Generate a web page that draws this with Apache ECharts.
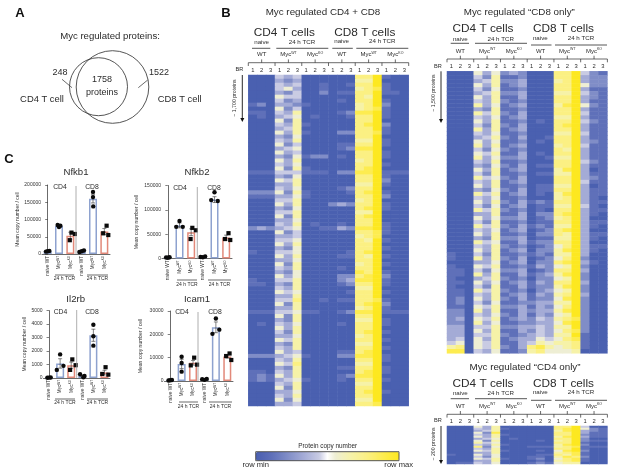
<!DOCTYPE html>
<html><head><meta charset="utf-8">
<style>html,body{margin:0;padding:0;background:#fff}#c{width:617px;height:476px}</style>
<script src="https://cdn.jsdelivr.net/npm/echarts@6/dist/echarts.min.js"></script>
</head><body><div id="c"></div>
<script>
// ---------- DATA ----------
const genes = ['Nfkb1','Nfkb2','Il2rb','Icam1'];
const barCats = ['naive WT','MycWT','MycKO','naive WT','MycWT','MycKO'];
const nfkb1Means = [8000,81000,53000,8000,160000,65000];
const nfkb2Means = [2000,68000,54000,3000,121000,43000];
const il2rbMeans = [30,1080,950,150,3170,400];
const icam1Means = [300,7300,7800,700,23000,10500];
const nfkb1Err = [2000,3000,10000,2000,12000,9000];
const nfkb2Err = [500,5000,7000,500,6000,5000];
const il2rbErr = [10,350,230,60,450,170];
const icam1Err = [100,2000,1000,100,2300,700];
const nfkb1Pts = [[7000,9000,8000],[78000,82000,84000],[62000,58000,40000],[6000,10000,8000],[180000,165000,138000],[82000,60000,55000]];
const nfkb2Pts = [[2000,2500,1500],[77000,65000,65000],[63000,58000,40000],[3000,4000,2500],[136000,118000,120000],[52000,40000,38000]];
const il2rbPts = [[20,40,30],[1750,900,600],[1380,950,600],[280,150,60],[3950,3100,2400],[800,300,250]];
const icam1Pts = [[200,400,300],[10400,7700,4000],[10000,7000,6700],[800,900,500],[26800,22000,20200],[11800,10700,9000]];
const yMax = [200000,150000,5000,30000];
const yStep = [50000,50000,1000,10000];
const heatCols = ['1','2','3','1','2','3','1','2','3','1','2','3','1','2','3','1','2','3'];
const heat1Rows = [
'000 434 000 000 779 100','000 323 000 000 669 000','000 434 001 001 779 100','000 453 001 000 678 100',
'000 324 002 011 779 110','000 544 000 000 769 000','000 423 000 010 779 100','120 332 100 000 679 200',
'000 524 000 000 678 100','110 436 000 012 889 100','010 345 010 001 779 100','000 526 000 000 779 000',
'000 436 100 000 789 200','000 346 000 000 779 100','000 536 100 022 778 100','000 325 000 000 779 000',
'000 436 000 000 669 100','000 524 000 011 779 100','000 345 000 012 889 000','000 534 000 000 779 100',
'000 325 122 010 779 100','000 536 000 000 679 000','000 435 000 000 779 100','000 526 100 000 789 000',
'111 444 111 022 889 111','000 325 000 000 779 100','000 546 000 000 779 200','000 336 000 000 669 100',
'000 435 000 012 779 000','222 526 100 001 789 100','111 335 100 000 779 200','000 446 000 000 679 000',
'000 536 000 232 779 100','000 325 000 000 789 100','000 446 000 000 669 000','000 526 000 000 789 000',
'000 335 000 000 779 000','000 436 010 010 779 100','232 345 001 132 889 100','000 524 000 000 778 100',
'000 334 000 000 678 000','000 445 000 000 769 100','000 536 000 000 779 000','000 325 000 000 779 100',
'100 445 000 001 789 000','000 536 000 011 769 100','000 335 000 000 779 000','000 526 000 000 679 100',
'000 436 000 010 779 000','000 325 000 000 879 100','000 535 000 022 789 200','100 446 000 023 889 100',
'110 326 000 012 779 100','000 436 000 000 669 000','000 545 000 001 779 100','000 336 000 000 779 000',
'000 447 001 011 778 100','000 526 000 000 789 200','000 336 000 000 679 100','111 445 110 012 889 111',
'000 526 000 000 779 000','000 326 000 000 669 100','010 435 000 010 779 100','000 536 000 000 779 000',
'000 426 000 000 789 100','000 335 000 000 679 000','000 546 000 000 779 100','000 326 000 000 669 000',
'000 436 000 000 779 100','000 534 000 011 789 000','222 345 100 022 889 100','000 436 000 000 779 100',
'000 547 000 000 669 000','000 326 000 011 779 100','110 436 000 000 789 100','121 536 000 012 889 000',
'121 345 100 010 779 100','000 436 000 000 669 000','000 526 000 000 779 000','000 335 000 000 789 100',
'000 436 000 000 779 000','000 525 000 000 669 000','000 334 000 000 778 000'
];
const heat2Rows = [
'000 535 232 000 779 421','000 426 112 000 779 322','000 346 223 000 679 322','000 536 123 000 779 522',
'000 425 112 000 779 311','000 346 223 000 669 421','000 536 113 000 779 321','000 436 212 000 779 311',
'000 635 123 000 689 521','000 326 112 000 779 311','000 646 213 000 779 411','000 435 123 000 669 311',
'000 536 112 010 779 421','000 426 213 000 789 311','000 636 123 000 779 311','000 435 112 000 669 411',
'000 346 213 001 779 311','000 535 112 010 779 321','000 636 123 000 679 411','000 425 212 000 769 311',
'000 546 113 010 779 311','000 635 223 001 669 311','000 436 112 000 779 421','000 325 213 011 779 311',
'000 536 123 000 689 301','000 426 112 011 669 311','000 645 213 000 779 321','000 436 123 000 779 411',
'000 536 112 011 669 301','000 325 213 011 779 311','000 646 123 010 689 311','000 435 112 000 679 310',
'000 536 213 121 779 311','000 425 123 011 669 410','000 646 212 010 779 311','000 336 113 022 789 310',
'000 535 223 012 679 300','000 426 112 011 779 311','000 646 213 121 669 310','000 435 123 012 789 300',
'000 536 112 022 769 311','000 326 223 011 669 310','000 645 113 122 779 300','000 436 212 012 579 311',
'000 536 123 022 689 310','100 426 112 121 669 300','100 636 213 012 579 200','000 335 123 022 789 310',
'100 546 112 132 569 200','110 425 223 012 779 300','110 636 113 123 689 200','100 346 212 022 569 200',
'110 535 123 132 779 300','100 426 113 122 689 200','110 646 212 023 569 200','110 436 123 132 679 300',
'120 536 213 122 589 200','120 425 112 233 669 200','110 546 223 132 579 200','220 636 113 233 689 200',
'220 435 213 132 569 200','230 546 123 243 678 200','220 635 112 233 589 200','330 446 223 343 669 200',
'330 536 113 243 578 200','330 446 212 343 669 100','340 536 123 354 578 100','450 546 113 465 667 100',
'670 546 213 786 567 100','880 435 112 675 556 000'
];
const heat3Rows = [
'000 536 000 000 779 400','000 436 100 000 789 521','000 346 000 000 689 321','000 528 000 000 779 311',
'000 436 100 000 779 211','000 536 000 000 689 311','000 345 010 000 779 200','000 526 000 010 679 211',
'000 645 000 000 779 100','000 436 100 000 689 200','000 725 000 111 678 111','000 436 000 000 779 100',
'000 546 100 010 589 200','000 336 000 000 678 100','100 535 000 011 768 100','000 425 000 110 687 200',
'000 546 100 120 578 100','000 336 000 010 678 100','011 435 000 121 566 000'
];
const heatColors = ['#4a60b0','#5466b4','#5f70b9','#6f7ec0','#808dc7','#929cce','#a4abd6','#b6bbdd','#c9cbe3','#ffffff','#eeeed4','#f2f0bd','#f6f2a8','#f9f196','#fbf083','#fcee6a','#fdec50','#fdea38','#fde820'];

// ---------- helpers ----------
const dark = '#2b2b2b', FF = '"Liberation Sans", Arial, sans-serif';
const g = [];
function T(text,x,y,size,o){o=o||{};g.push({type:'text',x:x,y:y,rotation:o.rot||0,z:20,silent:true,style:{text:text,x:0,y:0,align:o.align||'center',verticalAlign:'middle',fontSize:size,fontFamily:FF,fontWeight:o.bold?'bold':'normal',fill:o.color||dark,rich:o.rich}});}
function L(x1,y1,x2,y2,c,w){g.push({type:'line',z:20,silent:true,shape:{x1:x1,y1:y1,x2:x2,y2:y2},style:{stroke:c||dark,lineWidth:w||0.7}});}
const supRich = {a:{fontSize:6,fontFamily:FF,fill:dark},s:{fontSize:3.5,fontFamily:FF,fill:dark,verticalAlign:'top',padding:[0,0,3,0]}};

// panel letters
T('A',20,13,13,{bold:true,color:'#111'}); T('B',226,13,13,{bold:true,color:'#111'}); T('C',9,159,13,{bold:true,color:'#111'});

// panel A
T('Myc regulated proteins:',110,36.5,9.6);
g.push({type:'circle',z:20,silent:true,shape:{cx:112.5,cy:87,r:36.3},style:{fill:'none',stroke:dark,lineWidth:0.8}});
g.push({type:'circle',z:20,silent:true,shape:{cx:98.5,cy:86.7,r:29},style:{fill:'none',stroke:dark,lineWidth:0.8}});
T('248',60,72.5,9); L(62,79.3,72,87.7);
T('1758',102,80,9); T('proteins',102,92.3,9);
T('1522',159,72.7,9); L(147.7,80,138.3,87.7);
T('CD4 T cell',42,99.3,9.4); T('CD8 T cell',179.7,99.3,9.4);

// heatmap headers
function header(h){
  T(h.title,h.titleX,h.titleY,9.8);
  const d=h.d;
  T('CD4 T cells',d.x0+36,h.bigY,11.8); T('CD8 T cells',d.x0+116.5,h.bigY,11.8);
  T('naive',d.x0+13.3,h.subY,6.2); T('24 h TCR',d.x0+53.7,h.subY,6.2);
  T('naive',d.x0+93.3,h.subY-1,6.2); T('24 h TCR',d.x0+134,h.subY-1,6.2);
  L(d.x0+3.7,h.ln1,d.x0+22,h.ln1,dark,0.8); L(d.x0+28,h.ln1,d.x0+80,h.ln1,dark,0.8);
  L(d.x0+84,h.ln2,d.x0+104.5,h.ln2,dark,0.8); L(d.x0+108,h.ln2,d.x0+160,h.ln2,dark,0.8);
  const cw=d.w/6, names=['WT','MycWT','MycKO','WT','MycWT','MycKO'];
  L(d.x0,h.br,d.x0+d.w,h.br);
  for(let i=0;i<=6;i++) L(d.x0+i*cw,h.br,d.x0+i*cw,h.br+3.3);
  names.forEach(function(n,i){
    const cx=d.x0+(i+0.5)*cw;
    L(cx,h.br,cx,h.br-3.3);
    if(n==='WT') T('WT',cx,h.labY,6);
    else T('{a|Myc}{s|'+n.slice(3)+'}',cx,h.labY,6,{rich:supRich});
  });
  T('BR',d.x0-9,h.brY,5.6);
  T(h.rowLabel,d.x0-13.5,h.rowY,5.2,{rot:Math.PI/2});
  const ax=d.x0-6;
  L(ax,d.top,ax,h.arrEnd-3,'#111',0.9);
  g.push({type:'polygon',z:20,silent:true,shape:{points:[[ax-2,h.arrEnd-4],[ax+2,h.arrEnd-4],[ax,h.arrEnd]]},style:{fill:'#111'}});
}
const heatDefs = [
  {rows:heat1Rows,x0:248.3,w:160.4,top:75,h:331},
  {rows:heat2Rows,x0:447,w:160.4,top:71.3,h:282},
  {rows:heat3Rows,x0:447,w:160.4,top:426,h:38}
];
header({d:heatDefs[0],title:'Myc regulated CD4 + CD8',titleX:323,titleY:12.7,bigY:32.5,subY:42.3,ln1:48.3,ln2:48.3,labY:54.3,br:62.7,brY:69.7,rowLabel:'~ 1,700 proteins',rowY:98,arrEnd:122});
header({d:heatDefs[1],title:'Myc regulated “CD8 only”',titleX:519.3,titleY:12.7,bigY:29,subY:39,ln1:43.3,ln2:45,labY:51,br:59,brY:66.7,rowLabel:'~ 1,500 proteins',rowY:93,arrEnd:123});
header({d:heatDefs[2],title:'Myc regulated “CD4 only”',titleX:525,titleY:367.7,bigY:383.5,subY:393.3,ln1:398.7,ln2:400.3,labY:406,br:414.3,brY:420.3,rowLabel:'~ 200 proteins',rowY:444,arrEnd:464});

// colour legend labels
T('Protein copy number',327.7,446.7,6.4);
T('row min',255.7,465.3,7.6); T('row max',398.7,465.3,7.6);
g.push({type:'rect',z:20,silent:true,shape:{x:255.7,y:451.7,width:143.3,height:9},style:{fill:'none',stroke:'#444',lineWidth:0.9}});

// ---------- option ----------
const grids=[],xAxes=[],yAxes=[],series=[];
const barDefs = [
 {means:nfkb1Means,err:nfkb1Err,pts:nfkb1Pts,jit:[[-0.15,0.15,0],[0,0.12,-0.12],[0.1,0.4,-0.05],[-0.2,0.2,0],[0,0,0.02],[0.2,-0.1,0.35]],left:42,right:110,top:185,bottom:254,nameGap:22,titleX:76,titleY:172,cd4:60,cd8:92,cdY:187,div:76,divTop:186,ln:275,tcr:279,l1:[55,74],l2:[87,108]},
 {means:nfkb2Means,err:nfkb2Err,pts:nfkb2Pts,jit:[[-0.15,0.15,0],[0,0.28,-0.28],[0.1,0.4,-0.05],[-0.2,0.2,0],[0,0.28,-0.28],[0.2,-0.1,0.35]],left:162,right:232,top:185.5,bottom:258.5,nameGap:23,titleX:197,titleY:172,cd4:180,cd8:214,cdY:188,div:197.3,divTop:187,ln:280,tcr:285,l1:[177,197],l2:[208,231]},
 {means:il2rbMeans,err:il2rbErr,pts:il2rbPts,jit:[[-0.15,0.15,0],[0,0.3,-0.3],[0.1,0.4,-0.1],[-0.2,0.2,0.1],[0,0,0],[0.1,-0.2,0.35]],left:43.5,right:110,top:310.6,bottom:378,nameGap:16,titleX:75.7,titleY:299,cd4:60.5,cd8:92,cdY:312,div:76.7,divTop:310,ln:399,tcr:403,l1:[55,75],l2:[87,108]},
 {means:icam1Means,err:icam1Err,pts:icam1Pts,jit:[[-0.15,0.15,0],[0,0,0],[0.1,0.35,-0.2],[-0.2,0.2,0],[0,0.3,-0.3],[0.2,-0.1,0.35]],left:164.5,right:233,top:311,bottom:381,nameGap:21,titleX:197,titleY:299,cd4:182,cd8:215,cdY:312,div:198,divTop:312,ln:402,tcr:407,l1:[179,198],l2:[209,232]}
];
const wtColor='#8ea2cf', koColor='#e2897a';
barDefs.forEach(function(b,i){
  grids.push({left:b.left,top:b.top,width:b.right-b.left,height:b.bottom-b.top});
  xAxes.push({gridIndex:i,type:'category',data:barCats,position:'bottom',
    axisLine:{lineStyle:{color:dark,width:0.7}},axisTick:{length:2,alignWithLabel:true,lineStyle:{color:dark,width:0.6}},
    axisLabel:{interval:0,rotate:90,margin:2,fontSize:4.7,fontFamily:FF,color:'#333',
      formatter:function(v){return v.indexOf('Myc')===0?'{a|Myc}{s|'+v.slice(3)+'}':v;},
      rich:{a:{fontSize:4.7,fontFamily:FF,color:'#333'},s:{fontSize:3,fontFamily:FF,color:'#333',padding:[0,0,2,0]}}}});
  xAxes.push({gridIndex:i,type:'value',min:-0.5,max:5.5,show:false});
  yAxes.push({gridIndex:i,type:'value',min:0,max:yMax[i],interval:yStep[i],splitLine:{show:false},
    name:'Mean copy number / cell',nameLocation:'middle',nameRotate:90,nameGap:b.nameGap,
    nameTextStyle:{fontSize:5,fontFamily:FF,color:'#333'},
    axisLine:{show:true,lineStyle:{color:dark,width:0.7}},axisTick:{show:true,length:2.5,lineStyle:{color:dark,width:0.6}},
    axisLabel:{margin:1,fontSize:5,fontFamily:FF,color:'#333',formatter:function(v){return String(v);}}});
  series.push({type:'bar',xAxisIndex:2*i,yAxisIndex:i,barWidth:8,silent:true,
    data:b.means.map(function(v,k){const c=(k%3===2)?koColor:wtColor;return {value:v,itemStyle:{color:'#fff',borderColor:c,borderWidth:1.5}};})});
  series.push({type:'custom',xAxisIndex:2*i+1,yAxisIndex:i,silent:true,z:4,
    data:b.means.map(function(v,k){return [k,v-b.err[k],v+b.err[k]];}),
    renderItem:function(p,api){
      const a=api.coord([api.value(0),api.value(1)]),c=api.coord([api.value(0),api.value(2)]);
      const st={stroke:'#333',lineWidth:0.6};
      return {type:'group',children:[
        {type:'line',shape:{x1:a[0],y1:a[1],x2:c[0],y2:c[1]},style:st},
        {type:'line',shape:{x1:a[0]-2,y1:a[1],x2:a[0]+2,y2:a[1]},style:st},
        {type:'line',shape:{x1:c[0]-2,y1:c[1],x2:c[0]+2,y2:c[1]},style:st}]};
    }});
  const circ=[],sq=[];
  b.pts.forEach(function(arr,k){arr.forEach(function(v,m){(k%3===2?sq:circ).push([k+b.jit[k][m],v]);});});
  series.push({type:'scatter',xAxisIndex:2*i+1,yAxisIndex:i,symbol:'circle',symbolSize:4.4,silent:true,z:5,itemStyle:{color:'#0a0a0a',opacity:1},data:circ});
  series.push({type:'scatter',xAxisIndex:2*i+1,yAxisIndex:i,symbol:'rect',symbolSize:4.2,silent:true,z:5,itemStyle:{color:'#0a0a0a',opacity:1},data:sq});
  T(genes[i],b.titleX,b.titleY,9.6);
  T('CD4',b.cd4,b.cdY,6.8); T('CD8',b.cd8,b.cdY,6.8);
  L(b.div,b.divTop,b.div,b.bottom,'#9a9a9a',0.8);
  L(b.l1[0],b.ln,b.l1[1],b.ln,dark,0.7); L(b.l2[0],b.ln,b.l2[1],b.ln,dark,0.7);
  T('24 h TCR',(b.l1[0]+b.l1[1])/2,b.tcr,5); T('24 h TCR',(b.l2[0]+b.l2[1])/2,b.tcr,5);
});
const heatSeriesIdx=[];
heatDefs.forEach(function(h,j){
  const gi=grids.length, xi=xAxes.length, yi=yAxes.length;
  grids.push({left:h.x0,top:h.top,width:h.w,height:h.h});
  xAxes.push({gridIndex:gi,type:'category',data:heatCols,position:'top',axisLine:{show:false},axisTick:{show:false},splitLine:{show:false},
    axisLabel:{interval:0,margin:2,fontSize:5.8,fontFamily:FF,color:dark}});
  const parsed=h.rows.map(function(r){return r.replace(/ /g,'').split('').map(Number);});
  yAxes.push({gridIndex:gi,type:'category',inverse:true,data:parsed.map(function(_,k){return k;}),show:false});
  const cells=[];
  parsed.forEach(function(row,y){row.forEach(function(v,x){cells.push([x,y,v]);});});
  heatSeriesIdx.push(series.length);
  series.push({type:'heatmap',xAxisIndex:xi,yAxisIndex:yi,data:cells,silent:true,progressive:0,itemStyle:{borderWidth:0}});
});
const chart=echarts.init(document.getElementById('c'),null,{renderer:'canvas'});
chart.setOption({
  animation:false,backgroundColor:'#fff',
  textStyle:{fontFamily:FF},
  grid:grids,xAxis:xAxes,yAxis:yAxes,series:series,
  visualMap:{type:'continuous',seriesIndex:heatSeriesIdx,min:0,max:9,orient:'horizontal',left:255.7,top:451.7,itemWidth:9,itemHeight:143.3,
    text:null,calculable:false,realtime:false,hoverLink:false,padding:0,silent:true,
    inRange:{color:heatColors}},
  graphic:{elements:g}
});
</script></body></html>
